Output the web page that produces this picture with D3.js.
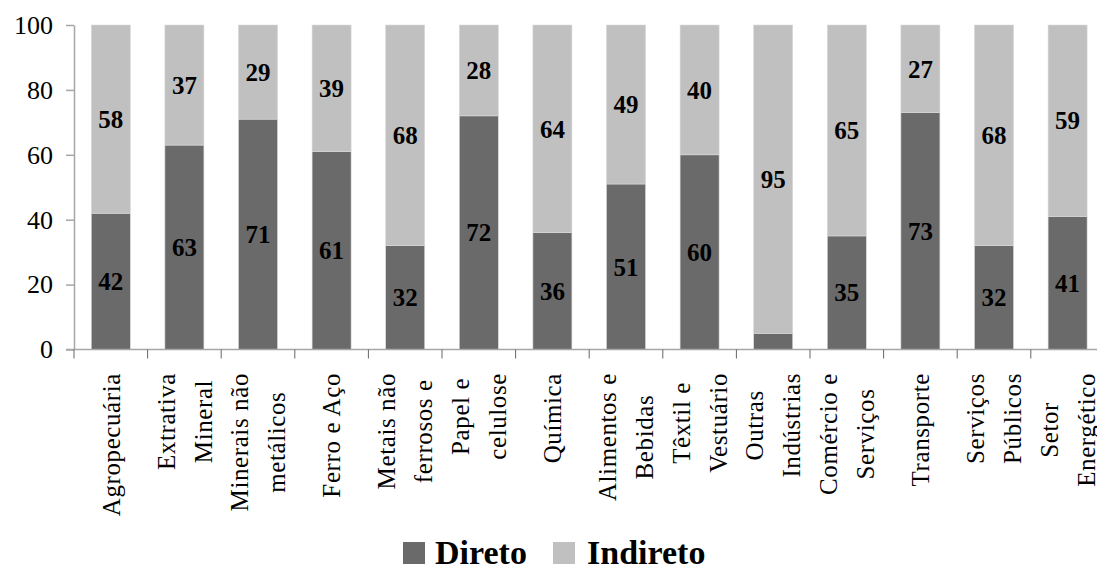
<!DOCTYPE html>
<html><head><meta charset="utf-8">
<script src="https://cdn.jsdelivr.net/npm/d3@7/dist/d3.min.js"></script>
<style>
html,body{margin:0;padding:0;background:#fff;}
</style></head>
<body>
<svg id="c" width="1097" height="567"></svg>
<script>
const categories = [
  ["Agropecuária"],
  ["Extrativa","Mineral"],
  ["Minerais não","metálicos"],
  ["Ferro e Aço"],
  ["Metais não","ferrosos e"],
  ["Papel e","celulose"],
  ["Química"],
  ["Alimentos e","Bebidas"],
  ["Têxtil e","Vestuário"],
  ["Outras","Indústrias"],
  ["Comércio e","Serviços"],
  ["Transporte"],
  ["Serviços","Públicos"],
  ["Setor","Energético"]
];
const direto   = [42,63,71,61,32,72,36,51,60,5,35,73,32,41];
const indireto = [58,37,29,39,68,28,64,49,40,95,65,27,68,59];
const yTicks = [0,20,40,60,80,100];
const seriesNames = ["Direto","Indireto"];
const colors = ["#6a6a6a","#c0c0c0"];

(function(){
const FONT = "'Liberation Serif', 'Times New Roman', 'DejaVu Serif', serif";
const svg = d3.select("#c").attr("font-family", FONT);
const mLeft = 74, mTop = 25, mBottom = 349.5, step = 73.6;
const axisColor = "#a6a6a6";
const keys = categories.map((c,i)=>i);
const x = d3.scaleBand().domain(keys).range([mLeft, mLeft + step*categories.length])
  .paddingInner(0.47).paddingOuter(0.235);
const y = d3.scaleLinear().domain([0,100]).range([mBottom, mTop]);

// bars
const g = svg.append("g");
keys.forEach(i=>{
  const d = direto[i], ind = indireto[i];
  g.append("rect").attr("x", x(i)).attr("width", x.bandwidth())
    .attr("y", y(d)).attr("height", y(0)-y(d)).attr("fill", colors[0])
    .attr("stroke","#d9d9d9").attr("stroke-width",0.6);
  g.append("rect").attr("x", x(i)).attr("width", x.bandwidth())
    .attr("y", y(d+ind)).attr("height", y(d)-y(d+ind)).attr("fill", colors[1])
    .attr("stroke","#d9d9d9").attr("stroke-width",0.6);
  const cx = x(i) + x.bandwidth()/2;
  if (d >= 10) g.append("text").attr("x", cx).attr("y", y(d/2)).attr("dy","0.35em")
    .attr("text-anchor","middle").attr("font-weight","bold").attr("font-size",25)
    .attr("font-family", FONT).text(d);
  if (ind >= 10) g.append("text").attr("x", cx).attr("y", y(d+ind/2)).attr("dy","0.35em")
    .attr("text-anchor","middle").attr("font-weight","bold").attr("font-size",25)
    .attr("font-family", FONT).text(ind);
});

// y axis
const ya = svg.append("g").attr("transform",`translate(${mLeft},0)`)
  .call(d3.axisLeft(y).tickValues(yTicks).tickSize(8).tickPadding(13).tickSizeOuter(0));
ya.attr("font-family", FONT);
ya.selectAll("text").attr("font-size",26).attr("fill","#000").attr("font-family", FONT);
ya.selectAll("line").attr("stroke",axisColor).attr("stroke-width",1.5);
ya.select(".domain").attr("stroke",axisColor).attr("stroke-width",1.5);

// x axis line and ticks
svg.append("line").attr("x1", mLeft-8).attr("x2", 1097).attr("y1", mBottom).attr("y2", mBottom)
  .attr("stroke",axisColor).attr("stroke-width",1.5);
const boundaries = keys.map(i => x(i) - x.step()*x.paddingInner()/2);
svg.selectAll(".xt").data(boundaries).enter().append("line")
  .attr("x1", d=>d).attr("x2", d=>d).attr("y1", mBottom).attr("y2", mBottom+9)
  .attr("stroke","#666");

// category labels
const labelTop = 373, lineGap = 37;
keys.forEach(i=>{
  const lines = categories[i];
  const cx = x(i) + x.bandwidth()/2;
  const lg = svg.append("g").attr("transform",`translate(${cx},${labelTop}) rotate(-90)`);
  const texts = lines.map((t,k)=> lg.append("text").attr("font-size",25).attr("font-family", FONT)
    .attr("letter-spacing","0.6px").attr("text-anchor","middle").attr("dy","0.35em")
    .attr("y", (k - (lines.length-1)/2)*lineGap).text(t));
  const maxLen = d3.max(texts, t=>t.node().getComputedTextLength());
  texts.forEach(t=>t.attr("x", -maxLen/2));
});

// legend
const legendItems = [{x:403, tx:435}, {x:553, tx:587}];
seriesNames.forEach((n,k)=>{
  svg.append("rect").attr("x", legendItems[k].x).attr("y",542).attr("width",22).attr("height",22)
    .attr("fill", colors[k]);
  svg.append("text").attr("x", legendItems[k].tx).attr("y",564).attr("font-size",34)
    .attr("font-family", FONT).attr("font-weight","bold").text(n);
});
})();
</script>
</body></html>
